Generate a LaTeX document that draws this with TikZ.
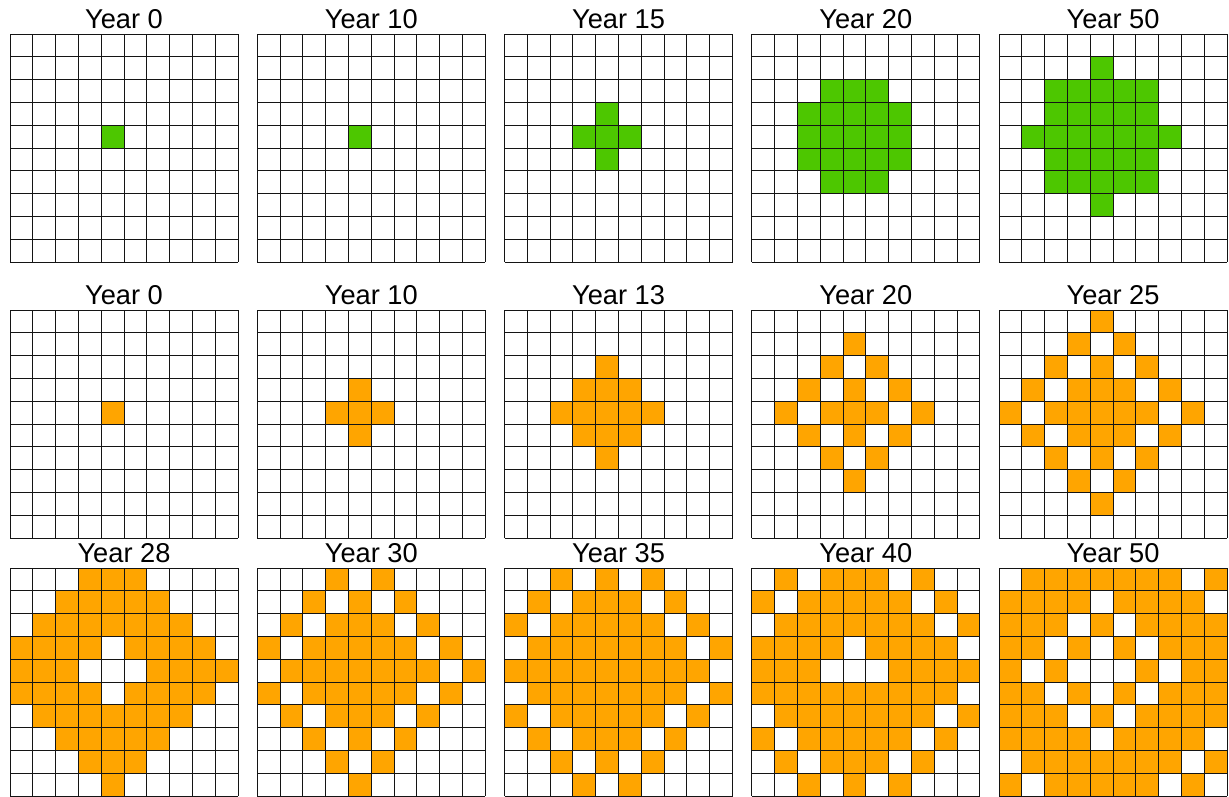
\documentclass[tikz,border=0pt]{standalone}
\usepackage{fontspec}
\setmainfont{Liberation Sans}
\usepackage{tikz}
\definecolor{cellgreen}{RGB}{77,199,0}
\definecolor{cellorange}{RGB}{255,165,0}

\newcommand{\cellsz}{22.8}
% #1 name, #2 x, #3 y, #4 colour, #5 title, #6 filled cells as row/{cols}
\newcommand{\gridpanel}[6]{%
  \node[yeartitle] (#1) at (#2+5*\cellsz,#3-6) {#5};
  \foreach \ri/\cols in {#6} {
    \foreach \ci in \cols
      \fill[#4] (#2+\ci*\cellsz,#3+\ri*\cellsz) rectangle ++(\cellsz,\cellsz);
  }
  \foreach \k in {0,...,10} {
    \draw[gridline] (#2+\k*\cellsz,#3) -- ++(0,10*\cellsz);
    \draw[gridline] (#2,#3+\k*\cellsz) -- ++(10*\cellsz,0);
  }
}

\begin{document}
\begin{tikzpicture}[
    x=0.02cm, y=-0.02cm,
    yeartitle/.style={anchor=base, inner sep=0pt, font=\fontsize{15.5}{18}\selectfont},
    gridline/.style={draw=black!92, line width=0.5pt}
]
\fill[white] (0,0) rectangle (1229,796);
\useasboundingbox (0,0) rectangle (1229,796);

% first row
\gridpanel{ga}{10}{34}{cellgreen}{Year 0}{4/{4}}
\gridpanel{gb}{257.25}{34}{cellgreen}{Year 10}{4/{4}}
\gridpanel{gc}{504.5}{34}{cellgreen}{Year 15}{3/{4},4/{3,4,5},5/{4}}
\gridpanel{gd}{751.75}{34}{cellgreen}{Year 20}{2/{3,4,5},3/{2,3,4,5,6},4/{2,3,4,5,6},5/{2,3,4,5,6},6/{3,4,5}}
\gridpanel{ge}{999}{34}{cellgreen}{Year 50}{1/{4},2/{2,3,4,5,6},3/{2,3,4,5,6},4/{1,2,3,4,5,6,7},5/{2,3,4,5,6},6/{2,3,4,5,6},7/{4}}

% second row
\gridpanel{oa}{10}{310}{cellorange}{Year 0}{4/{4}}
\gridpanel{ob}{257.25}{310}{cellorange}{Year 10}{3/{4},4/{3,4,5},5/{4}}
\gridpanel{oc}{504.5}{310}{cellorange}{Year 13}{2/{4},3/{3,4,5},4/{2,3,4,5,6},5/{3,4,5},6/{4}}
\gridpanel{od}{751.75}{310}{cellorange}{Year 20}{1/{4},2/{3,5},3/{2,4,6},4/{1,3,4,5,7},5/{2,4,6},6/{3,5},7/{4}}
\gridpanel{oe}{999}{310}{cellorange}{Year 25}{0/{4},1/{3,5},2/{2,4,6},3/{1,3,4,5,7},4/{0,2,3,4,5,6,8},5/{1,3,4,5,7},6/{2,4,6},7/{3,5},8/{4}}

% third row
\gridpanel{pa}{10}{568}{cellorange}{Year 28}{0/{3,4,5},1/{2,3,4,5,6},2/{1,2,3,4,5,6,7},3/{0,1,2,3,5,6,7,8},4/{0,1,2,6,7,8,9},5/{0,1,2,3,5,6,7,8},6/{1,2,3,4,5,6,7},7/{2,3,4,5,6},8/{3,4,5},9/{4}}
\gridpanel{pb}{257.25}{568}{cellorange}{Year 30}{0/{3,5},1/{2,4,6},2/{1,3,4,5,7},3/{0,2,3,4,5,6,8},4/{1,2,3,4,5,6,7,9},5/{0,2,3,4,5,6,8},6/{1,3,4,5,7},7/{2,4,6},8/{3,5},9/{4}}
\gridpanel{pc}{504.5}{568}{cellorange}{Year 35}{0/{2,4,6},1/{1,3,4,5,7},2/{0,2,3,4,5,6,8},3/{1,2,3,4,5,6,7,9},4/{0,1,2,3,4,5,6,7,8},5/{1,2,3,4,5,6,7,9},6/{0,2,3,4,5,6,8},7/{1,3,4,5,7},8/{2,4,6},9/{3,5}}
\gridpanel{pd}{751.75}{568}{cellorange}{Year 40}{0/{1,3,4,5,7},1/{0,2,3,4,5,6,8},2/{1,2,3,4,5,6,7,9},3/{0,1,2,3,5,6,7,8},4/{0,1,2,6,7,8,9},5/{0,1,2,3,4,5,6,7,8},6/{1,2,3,4,5,6,7,9},7/{0,2,3,4,5,6,8},8/{1,3,4,5,7},9/{2,4,6}}
\gridpanel{pe}{999}{568}{cellorange}{Year 50}{0/{1,2,3,4,5,6,7,9},1/{0,1,2,3,5,6,7,8},2/{0,1,2,4,6,7,8,9},3/{0,1,3,5,7,8,9},4/{0,2,6,8,9},5/{0,1,3,5,7,8,9},6/{0,1,2,4,6,7,8,9},7/{0,1,2,3,5,6,7,8},8/{1,2,3,4,5,6,7,9},9/{0,2,3,4,5,6,8}}
\end{tikzpicture}
\end{document}
